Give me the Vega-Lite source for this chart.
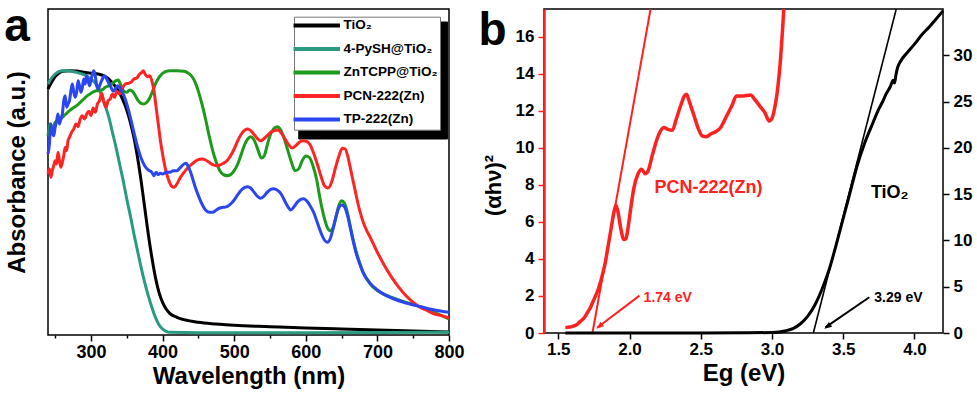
{
  "$schema": "https://vega.github.io/schema/vega-lite/v6.json",
  "background": "white",
  "padding": {"left": 3, "top": 3, "right": 0, "bottom": 0},
  "spacing": 95,
  "bounds": "flush",
  "config": {
    "view": {"stroke": "black", "strokeWidth": 1.5},
    "font": "Liberation Sans",
    "axis": {"labelFont": "Liberation Sans", "titleFont": "Liberation Sans", "labelFontWeight": "bold", "titleFontWeight": "bold", "labelColor": "black", "titleColor": "black", "tickColor": "black", "domainColor": "black", "grid": false, "tickWidth": 1.5, "labelFlush": false, "labelOverlap": false}
  },
  "resolve": {"scale": {"color": "independent"}, "legend": {"color": "independent"}},
  "datasets": {
    "abs": [
      {"s":"TiO₂","wl":240,"a":0.738},{"s":"TiO₂","wl":245,"a":0.758},{"s":"TiO₂","wl":250,"a":0.775},{"s":"TiO₂","wl":255,"a":0.785},{"s":"TiO₂","wl":260,"a":0.791},{"s":"TiO₂","wl":270,"a":0.793},{"s":"TiO₂","wl":280,"a":0.792},{"s":"TiO₂","wl":290,"a":0.788},{"s":"TiO₂","wl":300,"a":0.785},{"s":"TiO₂","wl":310,"a":0.783},{"s":"TiO₂","wl":315,"a":0.780},{"s":"TiO₂","wl":320,"a":0.775},{"s":"TiO₂","wl":325,"a":0.768},{"s":"TiO₂","wl":330,"a":0.756},{"s":"TiO₂","wl":335,"a":0.743},{"s":"TiO₂","wl":340,"a":0.725},{"s":"TiO₂","wl":345,"a":0.703},{"s":"TiO₂","wl":350,"a":0.675},{"s":"TiO₂","wl":355,"a":0.638},{"s":"TiO₂","wl":360,"a":0.593},{"s":"TiO₂","wl":365,"a":0.533},{"s":"TiO₂","wl":370,"a":0.463},{"s":"TiO₂","wl":375,"a":0.383},{"s":"TiO₂","wl":380,"a":0.303},{"s":"TiO₂","wl":385,"a":0.233},{"s":"TiO₂","wl":390,"a":0.173},{"s":"TiO₂","wl":395,"a":0.128},{"s":"TiO₂","wl":400,"a":0.098},{"s":"TiO₂","wl":405,"a":0.078},{"s":"TiO₂","wl":410,"a":0.065},{"s":"TiO₂","wl":420,"a":0.053},{"s":"TiO₂","wl":430,"a":0.046},{"s":"TiO₂","wl":450,"a":0.038},{"s":"TiO₂","wl":475,"a":0.033},{"s":"TiO₂","wl":500,"a":0.029},{"s":"TiO₂","wl":550,"a":0.025},{"s":"TiO₂","wl":600,"a":0.021},{"s":"TiO₂","wl":650,"a":0.018},{"s":"TiO₂","wl":700,"a":0.015},{"s":"TiO₂","wl":750,"a":0.012},{"s":"TiO₂","wl":800,"a":0.009},

      {"s":"4-PySH@TiO₂","wl":240,"a":0.753},{"s":"4-PySH@TiO₂","wl":245,"a":0.771},{"s":"4-PySH@TiO₂","wl":250,"a":0.783},{"s":"4-PySH@TiO₂","wl":255,"a":0.790},{"s":"4-PySH@TiO₂","wl":260,"a":0.793},{"s":"4-PySH@TiO₂","wl":270,"a":0.792},{"s":"4-PySH@TiO₂","wl":280,"a":0.788},{"s":"4-PySH@TiO₂","wl":290,"a":0.781},{"s":"4-PySH@TiO₂","wl":300,"a":0.768},{"s":"4-PySH@TiO₂","wl":305,"a":0.758},{"s":"4-PySH@TiO₂","wl":310,"a":0.743},{"s":"4-PySH@TiO₂","wl":315,"a":0.718},{"s":"4-PySH@TiO₂","wl":320,"a":0.688},{"s":"4-PySH@TiO₂","wl":325,"a":0.653},{"s":"4-PySH@TiO₂","wl":330,"a":0.608},{"s":"4-PySH@TiO₂","wl":335,"a":0.563},{"s":"4-PySH@TiO₂","wl":340,"a":0.513},{"s":"4-PySH@TiO₂","wl":345,"a":0.463},{"s":"4-PySH@TiO₂","wl":350,"a":0.408},{"s":"4-PySH@TiO₂","wl":355,"a":0.358},{"s":"4-PySH@TiO₂","wl":360,"a":0.303},{"s":"4-PySH@TiO₂","wl":365,"a":0.253},{"s":"4-PySH@TiO₂","wl":370,"a":0.203},{"s":"4-PySH@TiO₂","wl":375,"a":0.158},{"s":"4-PySH@TiO₂","wl":380,"a":0.118},{"s":"4-PySH@TiO₂","wl":385,"a":0.083},{"s":"4-PySH@TiO₂","wl":390,"a":0.053},{"s":"4-PySH@TiO₂","wl":395,"a":0.031},{"s":"4-PySH@TiO₂","wl":400,"a":0.018},{"s":"4-PySH@TiO₂","wl":405,"a":0.011},{"s":"4-PySH@TiO₂","wl":410,"a":0.008},{"s":"4-PySH@TiO₂","wl":450,"a":0.007},{"s":"4-PySH@TiO₂","wl":600,"a":0.007},{"s":"4-PySH@TiO₂","wl":800,"a":0.008},

      {"s":"ZnTCPP@TiO₂","wl":240,"a":0.598},{"s":"ZnTCPP@TiO₂","wl":243,"a":0.633},{"s":"ZnTCPP@TiO₂","wl":246,"a":0.618},{"s":"ZnTCPP@TiO₂","wl":250,"a":0.638},{"s":"ZnTCPP@TiO₂","wl":255,"a":0.643},{"s":"ZnTCPP@TiO₂","wl":260,"a":0.653},{"s":"ZnTCPP@TiO₂","wl":265,"a":0.663},{"s":"ZnTCPP@TiO₂","wl":270,"a":0.673},{"s":"ZnTCPP@TiO₂","wl":275,"a":0.681},{"s":"ZnTCPP@TiO₂","wl":280,"a":0.688},{"s":"ZnTCPP@TiO₂","wl":285,"a":0.698},{"s":"ZnTCPP@TiO₂","wl":290,"a":0.708},{"s":"ZnTCPP@TiO₂","wl":295,"a":0.718},{"s":"ZnTCPP@TiO₂","wl":300,"a":0.725},{"s":"ZnTCPP@TiO₂","wl":305,"a":0.731},{"s":"ZnTCPP@TiO₂","wl":310,"a":0.733},{"s":"ZnTCPP@TiO₂","wl":315,"a":0.735},{"s":"ZnTCPP@TiO₂","wl":320,"a":0.743},{"s":"ZnTCPP@TiO₂","wl":325,"a":0.748},{"s":"ZnTCPP@TiO₂","wl":330,"a":0.755},{"s":"ZnTCPP@TiO₂","wl":335,"a":0.763},{"s":"ZnTCPP@TiO₂","wl":338,"a":0.765},{"s":"ZnTCPP@TiO₂","wl":342,"a":0.748},{"s":"ZnTCPP@TiO₂","wl":346,"a":0.731},{"s":"ZnTCPP@TiO₂","wl":350,"a":0.728},{"s":"ZnTCPP@TiO₂","wl":354,"a":0.735},{"s":"ZnTCPP@TiO₂","wl":358,"a":0.731},{"s":"ZnTCPP@TiO₂","wl":362,"a":0.718},{"s":"ZnTCPP@TiO₂","wl":366,"a":0.703},{"s":"ZnTCPP@TiO₂","wl":370,"a":0.695},{"s":"ZnTCPP@TiO₂","wl":374,"a":0.693},{"s":"ZnTCPP@TiO₂","wl":378,"a":0.698},{"s":"ZnTCPP@TiO₂","wl":382,"a":0.711},{"s":"ZnTCPP@TiO₂","wl":386,"a":0.731},{"s":"ZnTCPP@TiO₂","wl":390,"a":0.753},{"s":"ZnTCPP@TiO₂","wl":395,"a":0.773},{"s":"ZnTCPP@TiO₂","wl":400,"a":0.785},{"s":"ZnTCPP@TiO₂","wl":405,"a":0.791},{"s":"ZnTCPP@TiO₂","wl":410,"a":0.793},{"s":"ZnTCPP@TiO₂","wl":420,"a":0.793},{"s":"ZnTCPP@TiO₂","wl":430,"a":0.791},{"s":"ZnTCPP@TiO₂","wl":435,"a":0.787},{"s":"ZnTCPP@TiO₂","wl":440,"a":0.778},{"s":"ZnTCPP@TiO₂","wl":445,"a":0.761},{"s":"ZnTCPP@TiO₂","wl":450,"a":0.731},{"s":"ZnTCPP@TiO₂","wl":455,"a":0.693},{"s":"ZnTCPP@TiO₂","wl":460,"a":0.648},{"s":"ZnTCPP@TiO₂","wl":465,"a":0.598},{"s":"ZnTCPP@TiO₂","wl":470,"a":0.553},{"s":"ZnTCPP@TiO₂","wl":475,"a":0.518},{"s":"ZnTCPP@TiO₂","wl":480,"a":0.493},{"s":"ZnTCPP@TiO₂","wl":485,"a":0.481},{"s":"ZnTCPP@TiO₂","wl":490,"a":0.478},{"s":"ZnTCPP@TiO₂","wl":495,"a":0.481},{"s":"ZnTCPP@TiO₂","wl":500,"a":0.493},{"s":"ZnTCPP@TiO₂","wl":505,"a":0.513},{"s":"ZnTCPP@TiO₂","wl":510,"a":0.543},{"s":"ZnTCPP@TiO₂","wl":515,"a":0.573},{"s":"ZnTCPP@TiO₂","wl":520,"a":0.591},{"s":"ZnTCPP@TiO₂","wl":523,"a":0.595},{"s":"ZnTCPP@TiO₂","wl":527,"a":0.588},{"s":"ZnTCPP@TiO₂","wl":532,"a":0.563},{"s":"ZnTCPP@TiO₂","wl":538,"a":0.531},{"s":"ZnTCPP@TiO₂","wl":542,"a":0.538},{"s":"ZnTCPP@TiO₂","wl":546,"a":0.568},{"s":"ZnTCPP@TiO₂","wl":550,"a":0.598},{"s":"ZnTCPP@TiO₂","wl":555,"a":0.618},{"s":"ZnTCPP@TiO₂","wl":560,"a":0.625},{"s":"ZnTCPP@TiO₂","wl":565,"a":0.615},{"s":"ZnTCPP@TiO₂","wl":570,"a":0.588},{"s":"ZnTCPP@TiO₂","wl":575,"a":0.553},{"s":"ZnTCPP@TiO₂","wl":580,"a":0.518},{"s":"ZnTCPP@TiO₂","wl":585,"a":0.493},{"s":"ZnTCPP@TiO₂","wl":590,"a":0.498},{"s":"ZnTCPP@TiO₂","wl":595,"a":0.523},{"s":"ZnTCPP@TiO₂","wl":600,"a":0.537},{"s":"ZnTCPP@TiO₂","wl":605,"a":0.533},{"s":"ZnTCPP@TiO₂","wl":610,"a":0.508},{"s":"ZnTCPP@TiO₂","wl":615,"a":0.468},{"s":"ZnTCPP@TiO₂","wl":620,"a":0.408},{"s":"ZnTCPP@TiO₂","wl":625,"a":0.358},{"s":"ZnTCPP@TiO₂","wl":630,"a":0.323},{"s":"ZnTCPP@TiO₂","wl":634,"a":0.313},{"s":"ZnTCPP@TiO₂","wl":638,"a":0.321},{"s":"ZnTCPP@TiO₂","wl":642,"a":0.353},{"s":"ZnTCPP@TiO₂","wl":646,"a":0.388},{"s":"ZnTCPP@TiO₂","wl":650,"a":0.403},{"s":"ZnTCPP@TiO₂","wl":654,"a":0.395},{"s":"ZnTCPP@TiO₂","wl":658,"a":0.368},{"s":"ZnTCPP@TiO₂","wl":662,"a":0.328},{"s":"ZnTCPP@TiO₂","wl":666,"a":0.288},{"s":"ZnTCPP@TiO₂","wl":670,"a":0.253},{"s":"ZnTCPP@TiO₂","wl":675,"a":0.218},{"s":"ZnTCPP@TiO₂","wl":680,"a":0.188},{"s":"ZnTCPP@TiO₂","wl":690,"a":0.153},{"s":"ZnTCPP@TiO₂","wl":700,"a":0.133},{"s":"ZnTCPP@TiO₂","wl":710,"a":0.121},{"s":"ZnTCPP@TiO₂","wl":720,"a":0.113},{"s":"ZnTCPP@TiO₂","wl":740,"a":0.098},{"s":"ZnTCPP@TiO₂","wl":760,"a":0.085},{"s":"ZnTCPP@TiO₂","wl":780,"a":0.068},{"s":"ZnTCPP@TiO₂","wl":800,"a":0.048},

      {"s":"PCN-222(Zn)","wl":240,"a":0.483},{"s":"PCN-222(Zn)","wl":242,"a":0.498},{"s":"PCN-222(Zn)","wl":244,"a":0.473},{"s":"PCN-222(Zn)","wl":246,"a":0.493},{"s":"PCN-222(Zn)","wl":248,"a":0.508},{"s":"PCN-222(Zn)","wl":250,"a":0.523},{"s":"PCN-222(Zn)","wl":252,"a":0.513},{"s":"PCN-222(Zn)","wl":254,"a":0.548},{"s":"PCN-222(Zn)","wl":256,"a":0.523},{"s":"PCN-222(Zn)","wl":258,"a":0.503},{"s":"PCN-222(Zn)","wl":260,"a":0.518},{"s":"PCN-222(Zn)","wl":262,"a":0.538},{"s":"PCN-222(Zn)","wl":264,"a":0.563},{"s":"PCN-222(Zn)","wl":266,"a":0.553},{"s":"PCN-222(Zn)","wl":268,"a":0.583},{"s":"PCN-222(Zn)","wl":270,"a":0.593},{"s":"PCN-222(Zn)","wl":273,"a":0.608},{"s":"PCN-222(Zn)","wl":276,"a":0.618},{"s":"PCN-222(Zn)","wl":279,"a":0.633},{"s":"PCN-222(Zn)","wl":282,"a":0.625},{"s":"PCN-222(Zn)","wl":285,"a":0.648},{"s":"PCN-222(Zn)","wl":288,"a":0.658},{"s":"PCN-222(Zn)","wl":291,"a":0.648},{"s":"PCN-222(Zn)","wl":294,"a":0.663},{"s":"PCN-222(Zn)","wl":297,"a":0.671},{"s":"PCN-222(Zn)","wl":300,"a":0.658},{"s":"PCN-222(Zn)","wl":303,"a":0.681},{"s":"PCN-222(Zn)","wl":306,"a":0.668},{"s":"PCN-222(Zn)","wl":309,"a":0.693},{"s":"PCN-222(Zn)","wl":312,"a":0.703},{"s":"PCN-222(Zn)","wl":315,"a":0.725},{"s":"PCN-222(Zn)","wl":318,"a":0.698},{"s":"PCN-222(Zn)","wl":321,"a":0.683},{"s":"PCN-222(Zn)","wl":324,"a":0.703},{"s":"PCN-222(Zn)","wl":327,"a":0.708},{"s":"PCN-222(Zn)","wl":330,"a":0.723},{"s":"PCN-222(Zn)","wl":333,"a":0.713},{"s":"PCN-222(Zn)","wl":336,"a":0.731},{"s":"PCN-222(Zn)","wl":340,"a":0.723},{"s":"PCN-222(Zn)","wl":344,"a":0.741},{"s":"PCN-222(Zn)","wl":348,"a":0.753},{"s":"PCN-222(Zn)","wl":352,"a":0.755},{"s":"PCN-222(Zn)","wl":356,"a":0.758},{"s":"PCN-222(Zn)","wl":360,"a":0.768},{"s":"PCN-222(Zn)","wl":364,"a":0.771},{"s":"PCN-222(Zn)","wl":368,"a":0.783},{"s":"PCN-222(Zn)","wl":371,"a":0.788},{"s":"PCN-222(Zn)","wl":373,"a":0.793},{"s":"PCN-222(Zn)","wl":376,"a":0.781},{"s":"PCN-222(Zn)","wl":379,"a":0.775},{"s":"PCN-222(Zn)","wl":382,"a":0.778},{"s":"PCN-222(Zn)","wl":385,"a":0.763},{"s":"PCN-222(Zn)","wl":388,"a":0.733},{"s":"PCN-222(Zn)","wl":391,"a":0.683},{"s":"PCN-222(Zn)","wl":394,"a":0.633},{"s":"PCN-222(Zn)","wl":397,"a":0.583},{"s":"PCN-222(Zn)","wl":400,"a":0.543},{"s":"PCN-222(Zn)","wl":404,"a":0.498},{"s":"PCN-222(Zn)","wl":408,"a":0.468},{"s":"PCN-222(Zn)","wl":412,"a":0.448},{"s":"PCN-222(Zn)","wl":416,"a":0.443},{"s":"PCN-222(Zn)","wl":420,"a":0.453},{"s":"PCN-222(Zn)","wl":425,"a":0.473},{"s":"PCN-222(Zn)","wl":430,"a":0.488},{"s":"PCN-222(Zn)","wl":435,"a":0.501},{"s":"PCN-222(Zn)","wl":440,"a":0.511},{"s":"PCN-222(Zn)","wl":445,"a":0.520},{"s":"PCN-222(Zn)","wl":450,"a":0.526},{"s":"PCN-222(Zn)","wl":455,"a":0.528},{"s":"PCN-222(Zn)","wl":460,"a":0.525},{"s":"PCN-222(Zn)","wl":465,"a":0.518},{"s":"PCN-222(Zn)","wl":470,"a":0.511},{"s":"PCN-222(Zn)","wl":475,"a":0.508},{"s":"PCN-222(Zn)","wl":480,"a":0.510},{"s":"PCN-222(Zn)","wl":485,"a":0.515},{"s":"PCN-222(Zn)","wl":490,"a":0.523},{"s":"PCN-222(Zn)","wl":495,"a":0.538},{"s":"PCN-222(Zn)","wl":500,"a":0.558},{"s":"PCN-222(Zn)","wl":505,"a":0.583},{"s":"PCN-222(Zn)","wl":510,"a":0.603},{"s":"PCN-222(Zn)","wl":515,"a":0.615},{"s":"PCN-222(Zn)","wl":519,"a":0.618},{"s":"PCN-222(Zn)","wl":523,"a":0.613},{"s":"PCN-222(Zn)","wl":528,"a":0.601},{"s":"PCN-222(Zn)","wl":533,"a":0.588},{"s":"PCN-222(Zn)","wl":537,"a":0.583},{"s":"PCN-222(Zn)","wl":541,"a":0.588},{"s":"PCN-222(Zn)","wl":546,"a":0.598},{"s":"PCN-222(Zn)","wl":551,"a":0.608},{"s":"PCN-222(Zn)","wl":556,"a":0.613},{"s":"PCN-222(Zn)","wl":561,"a":0.615},{"s":"PCN-222(Zn)","wl":566,"a":0.605},{"s":"PCN-222(Zn)","wl":571,"a":0.588},{"s":"PCN-222(Zn)","wl":576,"a":0.571},{"s":"PCN-222(Zn)","wl":581,"a":0.561},{"s":"PCN-222(Zn)","wl":586,"a":0.568},{"s":"PCN-222(Zn)","wl":591,"a":0.578},{"s":"PCN-222(Zn)","wl":596,"a":0.583},{"s":"PCN-222(Zn)","wl":601,"a":0.581},{"s":"PCN-222(Zn)","wl":606,"a":0.571},{"s":"PCN-222(Zn)","wl":611,"a":0.545},{"s":"PCN-222(Zn)","wl":616,"a":0.513},{"s":"PCN-222(Zn)","wl":621,"a":0.478},{"s":"PCN-222(Zn)","wl":626,"a":0.448},{"s":"PCN-222(Zn)","wl":631,"a":0.441},{"s":"PCN-222(Zn)","wl":636,"a":0.458},{"s":"PCN-222(Zn)","wl":641,"a":0.498},{"s":"PCN-222(Zn)","wl":646,"a":0.535},{"s":"PCN-222(Zn)","wl":651,"a":0.560},{"s":"PCN-222(Zn)","wl":655,"a":0.558},{"s":"PCN-222(Zn)","wl":659,"a":0.533},{"s":"PCN-222(Zn)","wl":663,"a":0.493},{"s":"PCN-222(Zn)","wl":668,"a":0.443},{"s":"PCN-222(Zn)","wl":673,"a":0.393},{"s":"PCN-222(Zn)","wl":678,"a":0.353},{"s":"PCN-222(Zn)","wl":684,"a":0.318},{"s":"PCN-222(Zn)","wl":690,"a":0.293},{"s":"PCN-222(Zn)","wl":700,"a":0.248},{"s":"PCN-222(Zn)","wl":710,"a":0.208},{"s":"PCN-222(Zn)","wl":720,"a":0.173},{"s":"PCN-222(Zn)","wl":730,"a":0.143},{"s":"PCN-222(Zn)","wl":740,"a":0.118},{"s":"PCN-222(Zn)","wl":750,"a":0.098},{"s":"PCN-222(Zn)","wl":760,"a":0.083},{"s":"PCN-222(Zn)","wl":770,"a":0.073},{"s":"PCN-222(Zn)","wl":780,"a":0.063},{"s":"PCN-222(Zn)","wl":790,"a":0.058},{"s":"PCN-222(Zn)","wl":800,"a":0.051},

      {"s":"TP-222(Zn)","wl":240,"a":0.543},{"s":"TP-222(Zn)","wl":242,"a":0.573},{"s":"TP-222(Zn)","wl":244,"a":0.633},{"s":"TP-222(Zn)","wl":246,"a":0.608},{"s":"TP-222(Zn)","wl":248,"a":0.598},{"s":"TP-222(Zn)","wl":250,"a":0.623},{"s":"TP-222(Zn)","wl":252,"a":0.643},{"s":"TP-222(Zn)","wl":254,"a":0.663},{"s":"TP-222(Zn)","wl":256,"a":0.633},{"s":"TP-222(Zn)","wl":258,"a":0.648},{"s":"TP-222(Zn)","wl":260,"a":0.663},{"s":"TP-222(Zn)","wl":262,"a":0.703},{"s":"TP-222(Zn)","wl":264,"a":0.718},{"s":"TP-222(Zn)","wl":266,"a":0.683},{"s":"TP-222(Zn)","wl":268,"a":0.693},{"s":"TP-222(Zn)","wl":270,"a":0.703},{"s":"TP-222(Zn)","wl":272,"a":0.733},{"s":"TP-222(Zn)","wl":274,"a":0.753},{"s":"TP-222(Zn)","wl":276,"a":0.728},{"s":"TP-222(Zn)","wl":278,"a":0.713},{"s":"TP-222(Zn)","wl":280,"a":0.728},{"s":"TP-222(Zn)","wl":282,"a":0.763},{"s":"TP-222(Zn)","wl":284,"a":0.748},{"s":"TP-222(Zn)","wl":286,"a":0.728},{"s":"TP-222(Zn)","wl":288,"a":0.743},{"s":"TP-222(Zn)","wl":290,"a":0.768},{"s":"TP-222(Zn)","wl":292,"a":0.753},{"s":"TP-222(Zn)","wl":294,"a":0.778},{"s":"TP-222(Zn)","wl":296,"a":0.763},{"s":"TP-222(Zn)","wl":298,"a":0.748},{"s":"TP-222(Zn)","wl":300,"a":0.763},{"s":"TP-222(Zn)","wl":302,"a":0.783},{"s":"TP-222(Zn)","wl":304,"a":0.793},{"s":"TP-222(Zn)","wl":306,"a":0.778},{"s":"TP-222(Zn)","wl":308,"a":0.748},{"s":"TP-222(Zn)","wl":310,"a":0.738},{"s":"TP-222(Zn)","wl":313,"a":0.753},{"s":"TP-222(Zn)","wl":316,"a":0.768},{"s":"TP-222(Zn)","wl":319,"a":0.778},{"s":"TP-222(Zn)","wl":322,"a":0.768},{"s":"TP-222(Zn)","wl":325,"a":0.755},{"s":"TP-222(Zn)","wl":328,"a":0.743},{"s":"TP-222(Zn)","wl":331,"a":0.731},{"s":"TP-222(Zn)","wl":334,"a":0.738},{"s":"TP-222(Zn)","wl":337,"a":0.748},{"s":"TP-222(Zn)","wl":340,"a":0.743},{"s":"TP-222(Zn)","wl":343,"a":0.731},{"s":"TP-222(Zn)","wl":346,"a":0.718},{"s":"TP-222(Zn)","wl":350,"a":0.693},{"s":"TP-222(Zn)","wl":355,"a":0.653},{"s":"TP-222(Zn)","wl":360,"a":0.608},{"s":"TP-222(Zn)","wl":365,"a":0.565},{"s":"TP-222(Zn)","wl":370,"a":0.531},{"s":"TP-222(Zn)","wl":375,"a":0.508},{"s":"TP-222(Zn)","wl":380,"a":0.495},{"s":"TP-222(Zn)","wl":385,"a":0.488},{"s":"TP-222(Zn)","wl":388,"a":0.478},{"s":"TP-222(Zn)","wl":391,"a":0.488},{"s":"TP-222(Zn)","wl":394,"a":0.481},{"s":"TP-222(Zn)","wl":397,"a":0.485},{"s":"TP-222(Zn)","wl":400,"a":0.483},{"s":"TP-222(Zn)","wl":405,"a":0.488},{"s":"TP-222(Zn)","wl":410,"a":0.488},{"s":"TP-222(Zn)","wl":415,"a":0.493},{"s":"TP-222(Zn)","wl":420,"a":0.493},{"s":"TP-222(Zn)","wl":425,"a":0.503},{"s":"TP-222(Zn)","wl":430,"a":0.513},{"s":"TP-222(Zn)","wl":433,"a":0.515},{"s":"TP-222(Zn)","wl":436,"a":0.505},{"s":"TP-222(Zn)","wl":440,"a":0.483},{"s":"TP-222(Zn)","wl":445,"a":0.448},{"s":"TP-222(Zn)","wl":450,"a":0.418},{"s":"TP-222(Zn)","wl":455,"a":0.393},{"s":"TP-222(Zn)","wl":460,"a":0.375},{"s":"TP-222(Zn)","wl":465,"a":0.368},{"s":"TP-222(Zn)","wl":470,"a":0.368},{"s":"TP-222(Zn)","wl":475,"a":0.375},{"s":"TP-222(Zn)","wl":480,"a":0.381},{"s":"TP-222(Zn)","wl":485,"a":0.383},{"s":"TP-222(Zn)","wl":490,"a":0.385},{"s":"TP-222(Zn)","wl":495,"a":0.393},{"s":"TP-222(Zn)","wl":500,"a":0.405},{"s":"TP-222(Zn)","wl":505,"a":0.421},{"s":"TP-222(Zn)","wl":510,"a":0.435},{"s":"TP-222(Zn)","wl":515,"a":0.443},{"s":"TP-222(Zn)","wl":519,"a":0.445},{"s":"TP-222(Zn)","wl":523,"a":0.441},{"s":"TP-222(Zn)","wl":528,"a":0.428},{"s":"TP-222(Zn)","wl":533,"a":0.415},{"s":"TP-222(Zn)","wl":537,"a":0.410},{"s":"TP-222(Zn)","wl":541,"a":0.415},{"s":"TP-222(Zn)","wl":546,"a":0.428},{"s":"TP-222(Zn)","wl":551,"a":0.437},{"s":"TP-222(Zn)","wl":555,"a":0.439},{"s":"TP-222(Zn)","wl":560,"a":0.435},{"s":"TP-222(Zn)","wl":565,"a":0.425},{"s":"TP-222(Zn)","wl":570,"a":0.405},{"s":"TP-222(Zn)","wl":575,"a":0.385},{"s":"TP-222(Zn)","wl":579,"a":0.375},{"s":"TP-222(Zn)","wl":583,"a":0.383},{"s":"TP-222(Zn)","wl":588,"a":0.398},{"s":"TP-222(Zn)","wl":593,"a":0.407},{"s":"TP-222(Zn)","wl":597,"a":0.409},{"s":"TP-222(Zn)","wl":601,"a":0.403},{"s":"TP-222(Zn)","wl":606,"a":0.388},{"s":"TP-222(Zn)","wl":611,"a":0.368},{"s":"TP-222(Zn)","wl":616,"a":0.338},{"s":"TP-222(Zn)","wl":621,"a":0.308},{"s":"TP-222(Zn)","wl":626,"a":0.285},{"s":"TP-222(Zn)","wl":630,"a":0.278},{"s":"TP-222(Zn)","wl":634,"a":0.288},{"s":"TP-222(Zn)","wl":638,"a":0.318},{"s":"TP-222(Zn)","wl":642,"a":0.353},{"s":"TP-222(Zn)","wl":646,"a":0.381},{"s":"TP-222(Zn)","wl":650,"a":0.390},{"s":"TP-222(Zn)","wl":654,"a":0.385},{"s":"TP-222(Zn)","wl":658,"a":0.361},{"s":"TP-222(Zn)","wl":662,"a":0.323},{"s":"TP-222(Zn)","wl":666,"a":0.283},{"s":"TP-222(Zn)","wl":670,"a":0.248},{"s":"TP-222(Zn)","wl":675,"a":0.215},{"s":"TP-222(Zn)","wl":680,"a":0.188},{"s":"TP-222(Zn)","wl":690,"a":0.155},{"s":"TP-222(Zn)","wl":700,"a":0.135},{"s":"TP-222(Zn)","wl":710,"a":0.121},{"s":"TP-222(Zn)","wl":720,"a":0.111},{"s":"TP-222(Zn)","wl":740,"a":0.096},{"s":"TP-222(Zn)","wl":760,"a":0.085},{"s":"TP-222(Zn)","wl":780,"a":0.075},{"s":"TP-222(Zn)","wl":800,"a":0.068}
    ],
    "pcnb": [
      {"eg":1.55,"v":0.29},{"eg":1.58,"v":0.32},{"eg":1.6,"v":0.36},{"eg":1.63,"v":0.45},{"eg":1.65,"v":0.6},{"eg":1.68,"v":0.8},{"eg":1.7,"v":1.04},{"eg":1.73,"v":1.45},{"eg":1.75,"v":1.8},{"eg":1.78,"v":2.35},{"eg":1.8,"v":2.85},{"eg":1.83,"v":3.8},{"eg":1.85,"v":4.7},{"eg":1.87,"v":5.6},{"eg":1.89,"v":6.5},{"eg":1.905,"v":6.9},{"eg":1.92,"v":6.5},{"eg":1.94,"v":5.6},{"eg":1.96,"v":5.05},{"eg":1.975,"v":5.1},{"eg":1.99,"v":5.7},{"eg":2.01,"v":6.8},{"eg":2.03,"v":7.8},{"eg":2.06,"v":8.6},{"eg":2.085,"v":8.85},{"eg":2.11,"v":8.6},{"eg":2.13,"v":8.75},{"eg":2.16,"v":9.6},{"eg":2.19,"v":10.4},{"eg":2.21,"v":10.8},{"eg":2.24,"v":11.1},{"eg":2.27,"v":11.0},{"eg":2.3,"v":10.95},{"eg":2.33,"v":11.6},{"eg":2.36,"v":12.3},{"eg":2.385,"v":12.8},{"eg":2.4,"v":12.9},{"eg":2.42,"v":12.5},{"eg":2.45,"v":11.8},{"eg":2.48,"v":11.1},{"eg":2.51,"v":10.65},{"eg":2.54,"v":10.6},{"eg":2.57,"v":10.75},{"eg":2.61,"v":10.9},{"eg":2.64,"v":11.1},{"eg":2.68,"v":11.7},{"eg":2.72,"v":12.3},{"eg":2.75,"v":12.8},{"eg":2.8,"v":12.8},{"eg":2.85,"v":12.85},{"eg":2.88,"v":12.6},{"eg":2.92,"v":12.2},{"eg":2.95,"v":11.9},{"eg":2.98,"v":11.45},{"eg":3.0,"v":11.6},{"eg":3.02,"v":12.2},{"eg":3.04,"v":13.2},{"eg":3.06,"v":14.8},{"eg":3.075,"v":16.5},{"eg":3.09,"v":18.5}
    ],
    "tiob": [
      {"eg":1.55,"v":0},{"eg":2.0,"v":0},{"eg":2.5,"v":0},{"eg":2.8,"v":0.02},{"eg":3.0,"v":0.06},{"eg":3.05,"v":0.12},{"eg":3.1,"v":0.25},{"eg":3.15,"v":0.5},{"eg":3.2,"v":1.0},{"eg":3.25,"v":1.8},{"eg":3.3,"v":3.0},{"eg":3.35,"v":4.7},{"eg":3.4,"v":6.8},{"eg":3.45,"v":9.5},{"eg":3.5,"v":12.4},{"eg":3.55,"v":15.3},{"eg":3.6,"v":18.2},{"eg":3.65,"v":20.5},{"eg":3.7,"v":22.4},{"eg":3.75,"v":24.2},{"eg":3.78,"v":25.1},{"eg":3.8,"v":25.8},{"eg":3.83,"v":26.6},{"eg":3.85,"v":27.3},{"eg":3.86,"v":27.0},{"eg":3.87,"v":27.9},{"eg":3.88,"v":28.6},{"eg":3.9,"v":29.3},{"eg":3.95,"v":30.3},{"eg":4.0,"v":31.2},{"eg":4.05,"v":32.2},{"eg":4.1,"v":33.0},{"eg":4.15,"v":33.9},{"eg":4.2,"v":34.8}
    ],
    "one": [{"k": 1}]
  },
  "hconcat": [
    {
      "width": 401,
      "height": 326,
      "resolve": {"axis": {"x": "independent"}},
      "layer": [
        {
          "data": {"name": "one"},
          "mark": {"type": "rect", "fill": "black", "stroke": "black", "strokeWidth": 1, "opacity": 1},
          "encoding": {
            "x": {"datum": 590.2, "type": "quantitative", "axis": null},
            "x2": {"datum": 798},
            "y": {"datum": 0.588, "type": "quantitative"},
            "y2": {"datum": 0.939}
          }
        },
        {
          "data": {"name": "abs"},
          "mark": {"type": "line", "strokeWidth": 3, "interpolate": "monotone"},
          "encoding": {
            "x": {"field": "wl", "type": "quantitative", "scale": {"domain": [240, 800], "nice": false, "zero": false},
              "axis": {"orient": "bottom", "title": "Wavelength (nm)", "values": [300,400,500,600,700,800], "format": "d", "domain": false, "tickSize": 6, "labelFontSize": 18, "labelPadding": 2, "titleFontSize": 24, "titlePadding": 3}},
            "y": {"field": "a", "type": "quantitative", "scale": {"domain": [0, 0.978], "nice": false},
              "axis": {"title": "Absorbance (a.u.)", "labels": false, "ticks": false, "domain": false, "titleFontSize": 24, "titlePadding": 19}},
            "color": {"field": "s", "type": "nominal",
              "scale": {"domain": ["TiO₂", "4-PySH@TiO₂", "ZnTCPP@TiO₂", "PCN-222(Zn)", "TP-222(Zn)"], "range": ["#000000", "#2a9a80", "#1c9a1c", "#ff2424", "#2a46f0"]},
              "legend": {"orient": "none", "legendX": 246, "legendY": 7.7, "title": null, "symbolType": "M-5.8,0H5.8", "symbolSize": 64, "symbolStrokeWidth": 4, "symbolOffset": 14, "labelOffset": 20, "labelFont": "Liberation Sans", "labelFontSize": 13.5, "labelFontWeight": "bold", "labelColor": "black", "strokeColor": "#777777", "fillColor": "white", "padding": 2, "rowPadding": 6.5, "labelLimit": 200}}
          }
        },
        {
          "data": {"name": "one"},
          "mark": {"type": "text", "text": "a", "font": "Liberation Sans", "fontSize": 46, "fontWeight": "bold", "align": "center", "baseline": "alphabetic", "dx": -31, "dy": 32, "color": "black"},
          "encoding": {
            "x": {"datum": 240, "type": "quantitative", "axis": {"orient": "bottom", "title": null, "values": [250,350,450,550,650,750], "labels": false, "domain": false, "tickSize": 3, "grid": false}},
            "y": {"datum": 0.978, "type": "quantitative"}
          }
        }
      ]
    },
    {
      "width": 399,
      "height": 324,
      "resolve": {"scale": {"y": "independent"}},
      "layer": [
        {
          "layer": [
            {
              "data": {"name": "pcnb"},
              "mark": {"type": "line", "color": "#ff2020", "strokeWidth": 3.5, "clip": true, "interpolate": "monotone"},
              "encoding": {
                "x": {"field": "eg", "type": "quantitative", "scale": {"domain": [1.4, 4.2], "nice": false, "zero": false},
                  "axis": {"title": "Eg (eV)", "values": [1.5,1.75,2.0,2.25,2.5,2.75,3.0,3.25,3.5,3.75,4.0], "labelExpr": "(datum.value * 4) % 2 === 0 ? format(datum.value, '.1f') : ''", "domain": false, "tickSize": {"condition": {"test": "(datum.value * 4) % 2 === 0", "value": 6}, "value": 3}, "labelFontSize": 17, "labelPadding": 2, "titleFontSize": 24, "titlePadding": 4}},
                "y": {"field": "v", "type": "quantitative", "scale": {"domain": [0, 17.5], "nice": false},
                  "axis": {"orient": "left", "title": "(αhν)²", "titleY": 176, "values": [0,1,2,3,4,5,6,7,8,9,10,11,12,13,14,15,16,17], "labelExpr": "datum.value % 2 === 0 ? datum.label : ''", "domainColor": "#ff2020", "domainWidth": 2.5, "tickColor": "#ff2020", "tickSize": {"condition": {"test": "datum.value % 2 === 0", "value": 6}, "value": 3}, "labelFontSize": 17, "labelPadding": 4, "titleFontSize": 22, "titlePadding": 10}}
              }
            },
            {
              "data": {"name": "one"},
              "mark": {"type": "rule", "color": "#ff2020", "strokeWidth": 2},
              "encoding": {"x": {"datum": 1.74, "type": "quantitative"}, "y": {"datum": 0, "type": "quantitative"}, "x2": {"datum": 2.148}, "y2": {"datum": 17.5}}
            },
            {
              "data": {"name": "one"},
              "mark": {"type": "rule", "color": "#ff2020", "strokeWidth": 2},
              "encoding": {"x": {"datum": 2.07, "type": "quantitative"}, "y": {"datum": 2.02, "type": "quantitative"}, "x2": {"datum": 1.775}, "y2": {"datum": 0.3}}
            },
            {
              "data": {"name": "one"},
              "mark": {"type": "point", "shape": "M0,0L-0.7,1.9L0.7,1.9Z", "filled": true, "size": 64, "angle": 232, "color": "#ff2020", "opacity": 1},
              "encoding": {"x": {"datum": 1.767, "type": "quantitative"}, "y": {"datum": 0.23, "type": "quantitative"}}
            },
            {
              "data": {"name": "one"},
              "mark": {"type": "text", "text": "PCN-222(Zn)", "font": "Liberation Sans", "fontSize": 18, "fontWeight": "bold", "align": "left", "baseline": "alphabetic", "color": "#ff2020"},
              "encoding": {"x": {"datum": 2.176, "type": "quantitative"}, "y": {"datum": 7.54, "type": "quantitative"}}
            },
            {
              "data": {"name": "one"},
              "mark": {"type": "text", "text": "1.74 eV", "font": "Liberation Sans", "fontSize": 14, "fontWeight": "bold", "align": "left", "baseline": "alphabetic", "color": "#ff2020"},
              "encoding": {"x": {"datum": 2.099, "type": "quantitative"}, "y": {"datum": 1.67, "type": "quantitative"}}
            },
            {
              "data": {"name": "one"},
              "mark": {"type": "text", "text": "b", "font": "Liberation Sans", "fontSize": 46, "fontWeight": "bold", "align": "center", "baseline": "alphabetic", "dx": -51.5, "dy": 35.5, "color": "black"},
              "encoding": {"x": {"datum": 1.4, "type": "quantitative"}, "y": {"datum": 17.5, "type": "quantitative"}}
            }
          ]
        },
        {
          "layer": [
            {
              "data": {"name": "tiob"},
              "mark": {"type": "line", "color": "black", "strokeWidth": 3, "interpolate": "monotone"},
              "encoding": {
                "x": {"field": "eg", "type": "quantitative"},
                "y": {"field": "v", "type": "quantitative", "scale": {"domain": [0, 35], "nice": false},
                  "axis": {"orient": "right", "title": null, "values": [0,2.5,5,7.5,10,12.5,15,17.5,20,22.5,25,27.5,30,32.5], "labelExpr": "datum.value % 5 === 0 ? datum.label : ''", "domain": false, "tickSize": {"condition": {"test": "datum.value % 5 === 0", "value": 6}, "value": 3}, "labelFontSize": 17, "labelPadding": 4}}
              }
            },
            {
              "data": {"name": "one"},
              "mark": {"type": "rule", "color": "black", "strokeWidth": 1.6},
              "encoding": {"x": {"datum": 3.29, "type": "quantitative"}, "y": {"datum": 0, "type": "quantitative"}, "x2": {"datum": 3.872}, "y2": {"datum": 35}}
            },
            {
              "data": {"name": "one"},
              "mark": {"type": "rule", "color": "black", "strokeWidth": 2},
              "encoding": {"x": {"datum": 3.683, "type": "quantitative"}, "y": {"datum": 3.86, "type": "quantitative"}, "x2": {"datum": 3.375}, "y2": {"datum": 0.6}}
            },
            {
              "data": {"name": "one"},
              "mark": {"type": "point", "shape": "M0,0L-0.7,1.9L0.7,1.9Z", "filled": true, "size": 64, "angle": 235, "color": "black", "opacity": 1},
              "encoding": {"x": {"datum": 3.367, "type": "quantitative"}, "y": {"datum": 0.46, "type": "quantitative"}}
            },
            {
              "data": {"name": "one"},
              "mark": {"type": "text", "text": "TiO₂", "font": "Liberation Sans", "fontSize": 18, "fontWeight": "bold", "align": "left", "baseline": "alphabetic", "color": "black"},
              "encoding": {"x": {"datum": 3.694, "type": "quantitative"}, "y": {"datum": 14.6, "type": "quantitative"}}
            },
            {
              "data": {"name": "one"},
              "mark": {"type": "text", "text": "3.29 eV", "font": "Liberation Sans", "fontSize": 14, "fontWeight": "bold", "align": "left", "baseline": "alphabetic", "color": "black"},
              "encoding": {"x": {"datum": 3.718, "type": "quantitative"}, "y": {"datum": 3.39, "type": "quantitative"}}
            }
          ]
        }
      ]
    }
  ]
}
